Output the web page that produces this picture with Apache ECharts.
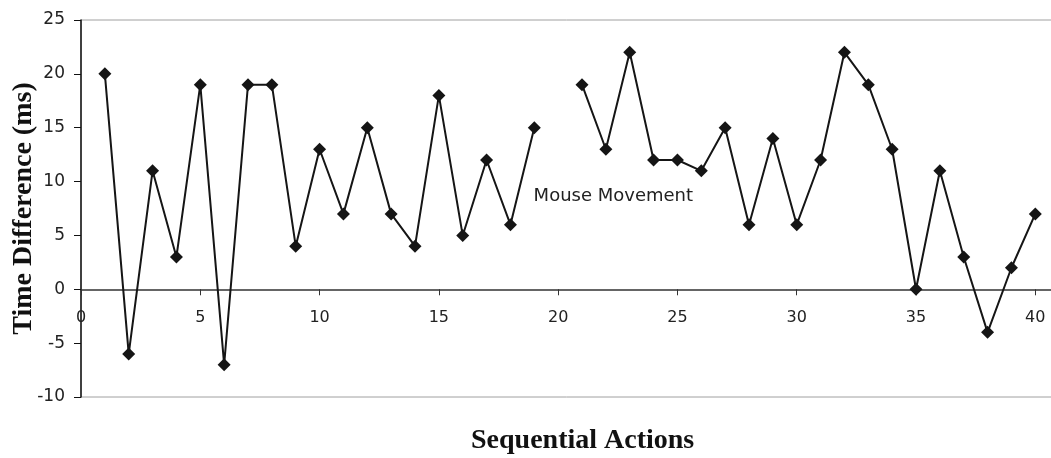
<!DOCTYPE html>
<html>
<head>
<meta charset="utf-8">
<script src="https://cdn.jsdelivr.net/npm/echarts@6/dist/echarts.min.js"></script>
<style>html,body{margin:0;padding:0;background:#fff;}#c{width:1051px;height:458px;}</style>
</head>
<body>
<div id="c"></div>
<script>
const actions = [1,2,3,4,5,6,7,8,9,10,11,12,13,14,15,16,17,18,19,20,21,22,23,24,25,26,27,28,29,30,31,32,33,34,35,36,37,38,39,40];
const timeDiff = [20,-6,11,3,19,-7,19,19,4,13,7,15,7,4,18,5,12,6,15,null,19,13,22,12,12,11,15,6,14,6,12,22,19,13,0,11,3,-4,2,7];
const yTicks = {min:-10, max:25, interval:5};
const annotation = {text:'Mouse Movement', x:18.95, y:8.6};

const gridTop = 20, gridBottom = 61, H = 458;
const plotH = H - gridTop - gridBottom;
const zeroOffset = plotH * (0 - yTicks.min) / (yTicks.max - yTicks.min);

const chart = echarts.init(document.getElementById('c'));
const data = actions.map((a,i)=>[a, timeDiff[i]===null ? '-' : timeDiff[i]]);
chart.setOption({
  animation:false,
  grid:{left:81, top:gridTop, right:-1, bottom:gridBottom, outerBoundsMode:'none', containLabel:false,
    show:true, borderColor:'#a0a0a0', borderWidth:1, backgroundColor:'transparent'},
  title:{text:'Sequential Actions', left:466, top:422,
    textStyle:{fontFamily:'Liberation Serif', fontWeight:'bold', fontSize:28, color:'#111'}},
  xAxis:{type:'value', min:0, max:40.7, interval:5, position:'bottom', offset:-zeroOffset,
    axisLine:{onZero:false, lineStyle:{color:'#333', width:1.5}},
    axisTick:{show:true, length:6, inside:false, lineStyle:{color:'#333'}},
    axisLabel:{margin:21, fontFamily:'DejaVu Sans', fontSize:16, color:'#222',
      formatter:v=> (Math.abs(v%5)<1e-9 ? String(v) : '')},
    splitLine:{show:false}},
  yAxis:{type:'value', min:yTicks.min, max:yTicks.max, interval:yTicks.interval,
    name:'Time Difference (ms)', nameLocation:'middle', nameGap:43, nameRotate:90,
    nameMoveOverlap:false,
    nameTextStyle:{fontFamily:'Liberation Serif', fontWeight:'bold', fontSize:28, color:'#111'},
    axisLine:{show:true, onZero:false, lineStyle:{color:'#111', width:1.5}},
    axisTick:{show:true, length:7, lineStyle:{color:'#111'}},
    axisLabel:{margin:16, fontFamily:'DejaVu Sans', fontSize:17, color:'#222'},
    splitLine:{show:false}},
  series:[{
    type:'line', data:data, connectNulls:false,
    symbol:'diamond', symbolSize:[13,13],
    lineStyle:{color:'#151515', width:2},
    itemStyle:{color:'#151515'},
    markPoint:{symbol:'rect', symbolSize:1, itemStyle:{color:'transparent'},
      label:{show:true, position:'right', formatter:annotation.text, distance:0,
        fontFamily:'DejaVu Sans', fontSize:18, color:'#222'},
      data:[{coord:[annotation.x, annotation.y]}]}
  }]
});
</script>
</body>
</html>
